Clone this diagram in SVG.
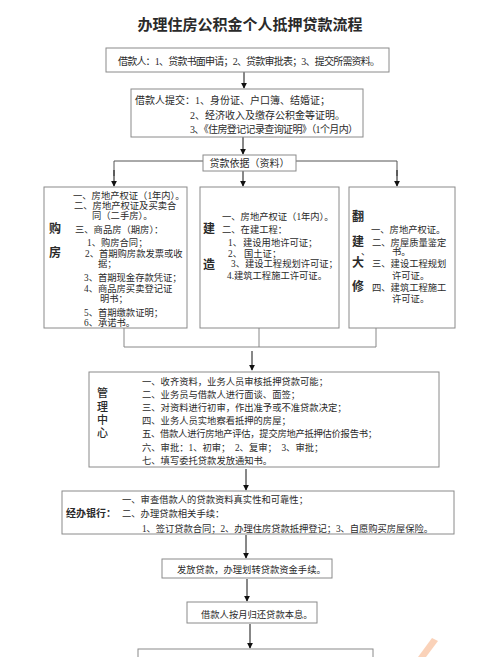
<svg xmlns="http://www.w3.org/2000/svg" width="500" height="657" viewBox="0 0 500 657">
<style>
text{font-family:"Liberation Serif","Noto Sans CJK SC",serif;fill:#2a2a2a;}
.box{fill:#fff;stroke:#8a8a8a;stroke-width:1;}
.t10{font-size:10px;}
.t9{font-size:9.3px;}
.lbl{font-size:12px;font-weight:bold;}
.lbl2{font-size:11px;font-weight:500;}
.ln{fill:none;stroke:#888;stroke-width:1;}
.ar{fill:none;stroke:#111;stroke-width:1;marker-end:url(#ah);}
</style>
<defs>
<marker id="ah" viewBox="0 0 8 8" refX="7" refY="4" markerWidth="6" markerHeight="6" markerUnits="userSpaceOnUse" orient="auto">
<path d="M0,0 L8,4 L0,8 z" fill="#111"/>
</marker>
</defs>
<rect width="500" height="657" fill="#fff"/>
<text x="250" y="30" text-anchor="middle" style="font-size:15px;font-weight:bold">办理住房公积金个人抵押贷款流程</text>

<g id="connectors">
<line class="ar" x1="244" y1="72" x2="244" y2="88"/>
<line class="ar" x1="243" y1="137" x2="243" y2="154"/>
<line class="ar" x1="243" y1="171" x2="243" y2="186"/>
<polyline class="ln" points="203,161 114,161 114,176" style="stroke:#555"/>
<line class="ar" x1="114" y1="170" x2="114" y2="186"/>
<polyline class="ln" points="296,161 397,161 397,176" style="stroke:#555"/>
<line class="ar" x1="397" y1="170" x2="397" y2="186"/>
<polyline class="ln" points="124,328 124,347 376,347 376,328"/>
<line class="ln" x1="259" y1="328" x2="259" y2="347"/>
<line class="ar" x1="252" y1="351" x2="252" y2="370"/>
<line class="ar" x1="246" y1="469" x2="246" y2="490"/>
<line class="ar" x1="246" y1="535" x2="246" y2="558"/>
<line class="ar" x1="247" y1="579" x2="247" y2="601"/>
<line class="ar" x1="250" y1="624" x2="250" y2="648"/>
</g>

<g id="apply">
<rect class="box" x="106" y="48" width="283" height="24"/>
<text class="t10" x="118" y="65" textLength="262" lengthAdjust="spacing">借款人：1、贷款书面申请；2、贷款审批表；3、提交所需资料。</text>
</g>

<g id="submit">
<rect class="box" x="131" y="89" width="232" height="48"/>
<text class="t10" x="135" y="104">借款人提交：1、身份证、户口簿、结婚证；</text>
<text class="t10" x="190" y="119">2、经济收入及缴存公积金等证明。</text>
<text class="t10" x="190" y="133" textLength="168" lengthAdjust="spacing">3、《住房登记记录查询证明》（1个月内）</text>
</g>

<g id="basis">
<rect class="box" x="203" y="155" width="93" height="16"/>
<text class="t10" x="249.5" y="167" text-anchor="middle">贷款依据（资料）</text>
</g>

<g id="buy">
<rect class="box" x="44" y="187" width="143" height="141"/>
<text class="lbl" x="49" y="233">购</text>
<text class="lbl" x="49" y="257">房</text>
<text class="t9" x="73" y="198.5">一、房地产权证（1年内）。</text>
<text class="t9" x="74" y="208.5">二、房地产权证及买卖合</text>
<text class="t9" x="92" y="218.5">同（二手房）。</text>
<text class="t9" x="75" y="232.5">三、商品房（期房）：</text>
<text class="t9" x="87" y="245.5">1、购房合同；</text>
<text class="t9" x="85" y="256.5">2、首期购房款发票或收</text>
<text class="t9" x="98" y="266.5">据；</text>
<text class="t9" x="84" y="280.5">3、首期现金存款凭证；</text>
<text class="t9" x="84" y="291.5">4、商品房买卖登记证</text>
<text class="t9" x="100" y="301.5">明书；</text>
<text class="t9" x="84" y="315.5">5、首期缴款证明；</text>
<text class="t9" x="84" y="326">6、承诺书。</text>
</g>

<g id="build">
<rect class="box" x="200" y="187" width="139" height="141"/>
<text class="lbl" x="203" y="233">建</text>
<text class="lbl" x="203" y="269">造</text>
<text class="t9" x="222" y="219.5">一、房地产权证（1年内）。</text>
<text class="t9" x="222" y="232.5">二、在建工程：</text>
<text class="t9" x="228" y="245.5">1、<tspan x="243">建设用地许可证；</tspan></text>
<text class="t9" x="228" y="256.5">2、<tspan x="244">国土证；</tspan></text>
<text class="t9" x="231" y="266.5">3、建设工程规划许可证；</text>
<text class="t9" x="227" y="278.5">4.建筑工程施工许可证。</text>
</g>

<g id="rebuild">
<rect class="box" x="349" y="187" width="106" height="141"/>
<text class="lbl" x="352" y="221">翻</text>
<text class="lbl" x="352" y="246">建</text>
<text class="t9" x="361" y="255">、</text>
<text class="lbl" x="352" y="267">大</text>
<text class="lbl" x="352" y="291">修</text>
<text class="t9" x="371" y="232.5">一、房地产权证。</text>
<text class="t9" x="372" y="245.5">二、房屋质量鉴定</text>
<text class="t9" x="392" y="255">书。</text>
<text class="t9" x="372" y="266.5">三、建设工程规划</text>
<text class="t9" x="392" y="278.5">许可证。</text>
<text class="t9" x="372" y="290.5">四、建筑工程施工</text>
<text class="t9" x="392" y="301.5">许可证。</text>
</g>

<g id="center">
<rect class="box" x="89" y="372" width="350" height="95"/>
<text class="lbl2" x="97" y="397">管</text>
<text class="lbl2" x="97" y="411">理</text>
<text class="lbl2" x="97" y="424">中</text>
<text class="lbl2" x="97" y="437">心</text>
<text class="t9" x="142" y="384.5">一、收齐资料，业务人员审核抵押贷款可能；</text>
<text class="t9" x="142" y="397.5">二、业务员与借款人进行面谈、面签；</text>
<text class="t9" x="142" y="411">三、对资料进行初审，作出准予或不准贷款决定；</text>
<text class="t9" x="142" y="424">四、业务人员实地察看抵押的房屋；</text>
<text class="t9" x="142" y="437" textLength="235" lengthAdjust="spacing">五、借款人进行房地产评估，提交房地产抵押估价报告书；</text>
<text class="t9" x="142" y="450.5" xml:space="preserve">六、审批：1、初审；  2、复审；  3、审批；</text>
<text class="t9" x="142" y="464">七、填写委托贷款发放通知书。</text>
</g>

<g id="bank">
<rect class="box" x="62" y="491" width="392" height="43"/>
<text x="66" y="517" style="font-size:10px;font-weight:bold">经办银行：</text>
<text class="t9" x="122" y="502.5">一、审查借款人的贷款资料真实性和可靠性；</text>
<text class="t9" x="122" y="517">二、办理贷款相关手续：</text>
<text class="t9" x="142" y="531.5" textLength="291" lengthAdjust="spacing">1、签订贷款合同；2、办理住房贷款抵押登记；3、自愿购买房屋保险。</text>
</g>

<g id="release">
<rect class="box" x="162" y="559" width="170" height="19"/>
<text class="t9" x="177" y="572.5">发放贷款，办理划转贷款资金手续。</text>
</g>

<g id="repay">
<rect class="box" x="187" y="602" width="130" height="21"/>
<text class="t9" x="201" y="617.5">借款人按月归还贷款本息。</text>
</g>

<g id="next">
<rect class="box" x="138" y="649" width="235" height="20"/>
</g>

<path d="M418,657 L432,638 L438,641 L426,657 z" fill="#f6b48a" opacity="0.6"/>
</svg>
